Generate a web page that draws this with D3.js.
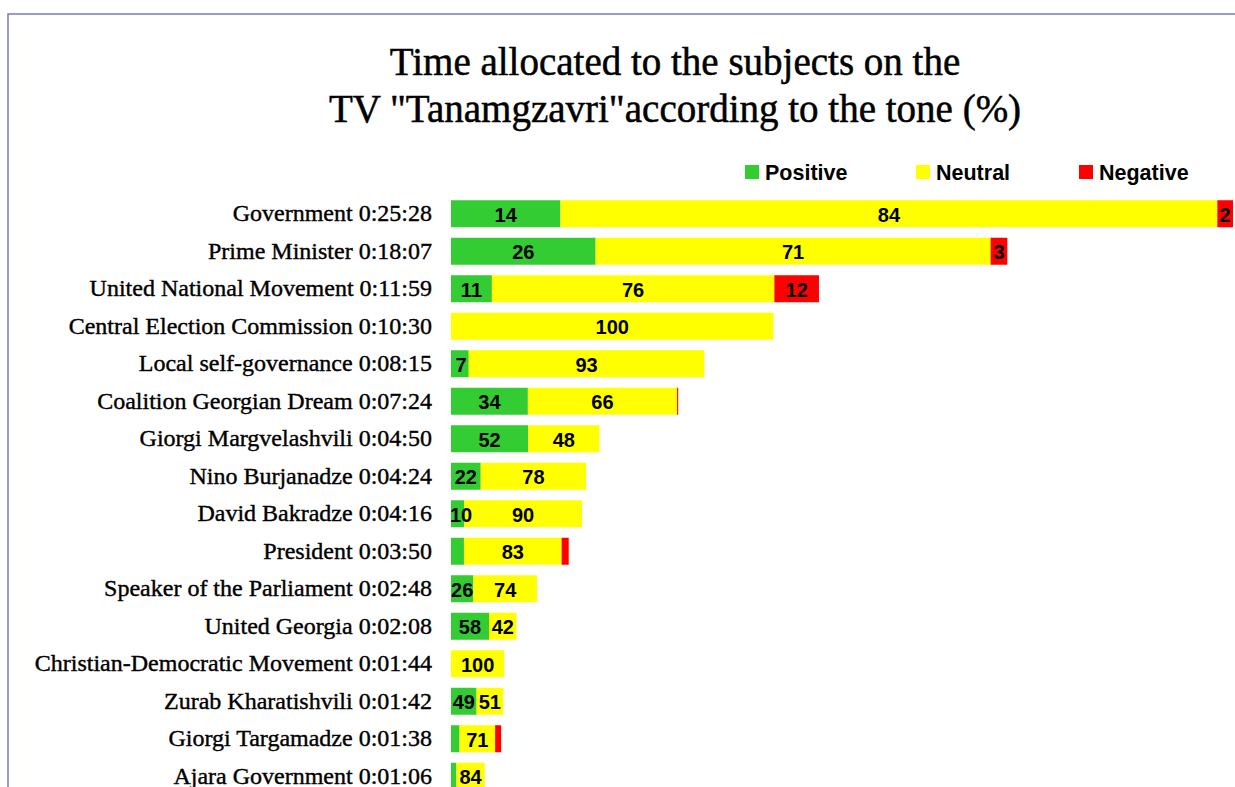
<!DOCTYPE html>
<html><head><meta charset="utf-8">
<script src="https://cdn.jsdelivr.net/npm/d3@7"></script>
<style>body{margin:0;background:#fff}svg{display:block}</style>
</head><body>
<script>
const subjects = ["Government","Prime Minister","United National Movement","Central Election Commission","Local self-governance","Coalition Georgian Dream","Giorgi Margvelashvili","Nino Burjanadze","David Bakradze","President","Speaker of the Parliament","United Georgia","Christian-Democratic Movement","Zurab Kharatishvili","Giorgi Targamadze","Ajara Government"];
const times = ["0:25:28","0:18:07","0:11:59","0:10:30","0:08:15","0:07:24","0:04:50","0:04:24","0:04:16","0:03:50","0:02:48","0:02:08","0:01:44","0:01:42","0:01:38","0:01:06"];
const positive = [14,26,11,0,7,34,52,22,10,11,26,58,0,49,17,16];
const neutral  = [84,71,76,100,93,66,48,78,90,83,74,42,100,51,71,84];
const negative = [2,3,12,0,0,0.5,0,0,0,6,0,0,0,0,12,0];
const showPos = [1,1,1,0,1,1,1,1,1,0,1,1,0,1,0,0];
const showNeu = [1,1,1,1,1,1,1,1,1,1,1,1,1,1,1,1];
const showNeg = [1,1,1,0,0,0,0,0,0,0,0,0,0,0,0,0];
const seriesNames = ["Positive","Neutral","Negative"];
const colors = ["#33cc33","#ffff00","#ff0000"];
const title = ["Time allocated to the subjects on the","TV \"Tanamgzavri\"according to the tone (%)"];

const W=1235,H=787;
const svg=d3.select("body").append("svg").attr("width",W).attr("height",H);
svg.append("rect").attr("x",8).attr("y",14).attr("width",W+20).attr("height",H+20)
  .attr("fill","none").attr("stroke","#7b7bb8").attr("stroke-width",1.5);

const secs = times.map(t=>{const [h,m,s]=t.split(":").map(Number);return h*3600+m*60+s;});
const x=d3.scaleLinear().domain([0,d3.max(secs)]).range([451,1233]);
const y=d3.scaleBand().domain(subjects).range([195,795]).paddingInner(0.28).paddingOuter(0.14);
const serif="'Liberation Serif','Times New Roman',serif";
const sans="'Liberation Sans',Arial,sans-serif";

svg.selectAll("text.title").data(title).join("text").attr("class","title")
  .attr("x",675).attr("y",(d,i)=>75+i*47).attr("text-anchor","middle")
  .style("font-family",serif).style("font-size","39px")
  .attr("stroke","#000").attr("stroke-width",0.5).text(d=>d);

// legend
const lx=[745,916,1079];
seriesNames.forEach((n,i)=>{
  svg.append("rect").attr("x",lx[i]).attr("y",165).attr("width",14).attr("height",14).attr("fill",colors[i]);
  svg.append("text").attr("x",lx[i]+20).attr("y",180).text(n)
    .style("font-family",sans).style("font-weight","bold").style("font-size","21.5px");
});

const rows=subjects.map((s,i)=>({s,t:secs[i],time:times[i],vals:[positive[i],neutral[i],negative[i]],show:[showPos[i],showNeu[i],showNeg[i]]}));
const gBars=svg.append("g"), gLabels=svg.append("g");
rows.forEach(r=>{
  const tot=d3.sum(r.vals);
  let acc=0;
  r.vals.forEach((v,k)=>{
    if(v<=0){return;}
    const x0=x(r.t*acc/tot), x1=x(r.t*(acc+v)/tot);
    acc+=v;
    gBars.append("rect").attr("x",x0).attr("y",y(r.s)).attr("width",Math.max(x1-x0,1)).attr("height",y.bandwidth()).attr("fill",colors[k]);
    if(r.show[k]) gLabels.append("text").attr("x",Math.max((x0+x1)/2,461)).attr("y",y(r.s)+y.bandwidth()/2+8)
      .attr("text-anchor","middle").text(Math.round(v))
      .style("font-family",sans).style("font-weight","bold").style("font-size","20px");
  });
  gLabels.append("text").attr("x",432).attr("y",y(r.s)+y.bandwidth()/2+7.5).attr("text-anchor","end")
    .text(r.s+" "+r.time)
    .style("font-family",serif).style("font-size","24px")
    .attr("stroke","#000").attr("stroke-width",0.4);
});
</script>
</body></html>
